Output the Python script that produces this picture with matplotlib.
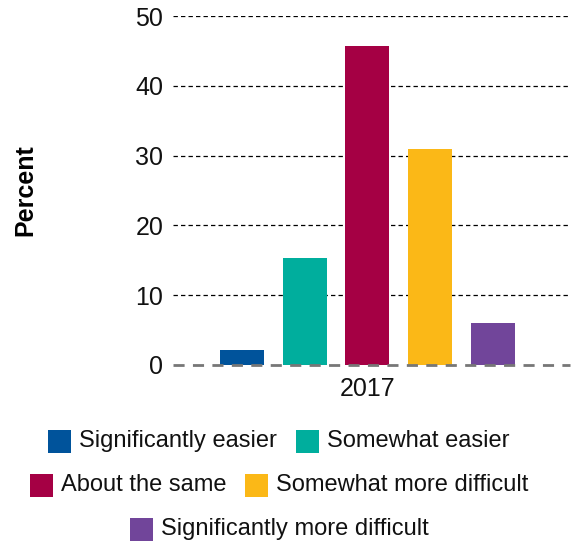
import matplotlib
matplotlib.use("Agg")
import matplotlib.pyplot as plt
from matplotlib.patches import Rectangle
from matplotlib.offsetbox import (AnchoredOffsetbox, DrawingArea, HPacker,
                                  TextArea, VPacker)

plt.rcParams['font.family'] = ['Liberation Sans', 'DejaVu Sans']

categories = ['Significantly easier', 'Somewhat easier', 'About the same',
              'Somewhat more difficult', 'Significantly more difficult']
values = [2.2, 15.4, 45.7, 31.0, 6.0]
colors = ['#00539B', '#00AE9D', '#A50044', '#FBB817', '#71459A']
year_label = '2017'
y_ticks = [0, 10, 20, 30, 40, 50]
legend_rows = [[0, 1], [2, 3], [4]]

W, H = 572, 545
fig = plt.figure(figsize=(W / 100, H / 100), dpi=100)
ax = fig.add_axes([173 / W, 1 - 365 / H, 397 / W, 349 / H])

x = list(range(len(values)))
ax.bar(x, values, width=0.70, color=colors, zorder=2)
ax.set_xlim(-1.10, 5.23)
ax.set_ylim(0, 50)

ax.set_yticks(y_ticks)
ax.set_yticklabels([str(t) for t in y_ticks], fontsize=18, color='#111111')
ax.set_xticks([2])
ax.set_xticklabels([year_label], fontsize=18, color='#111111')
ax.tick_params(axis='y', length=0, pad=7)
ax.tick_params(axis='x', length=0, pad=9)

for s in ax.spines.values():
    s.set_visible(False)

for t in y_ticks[1:]:
    ax.axhline(t, color='black', lw=0.9, ls=(0, (3.5, 2.5)), zorder=1)
ax.axhline(0, color='#777777', lw=2.0, ls=(0, (4, 3)), zorder=3, clip_on=False)

ax.set_ylabel('Percent', fontsize=18, fontweight='bold')
ax.yaxis.set_label_coords(-0.342, 0.5)

# legend, rows centred like the original
px = 0.72
rows = []
for row in legend_rows:
    items = []
    for i in row:
        da = DrawingArea(23 * px, 23 * px, 0, 0)
        da.add_artist(Rectangle((0, 0), 23 * px, 23 * px, facecolor=colors[i],
                                edgecolor='none'))
        ta = TextArea(categories[i], textprops=dict(fontsize=17, color='#111111'))
        items.append(HPacker(children=[da, ta], sep=8 * px, align='center', pad=0))
    rows.append(HPacker(children=items, sep=19 * px, align='center', pad=0))
box = VPacker(children=rows, sep=21 * px, align='center', pad=0)
anchored = AnchoredOffsetbox(loc='center', child=box, frameon=False, pad=0,
                             bbox_to_anchor=(279 / W, 1 - 485 / H),
                             bbox_transform=fig.transFigure, borderpad=0)
fig.add_artist(anchored)

fig.savefig('out.png', dpi=100)
